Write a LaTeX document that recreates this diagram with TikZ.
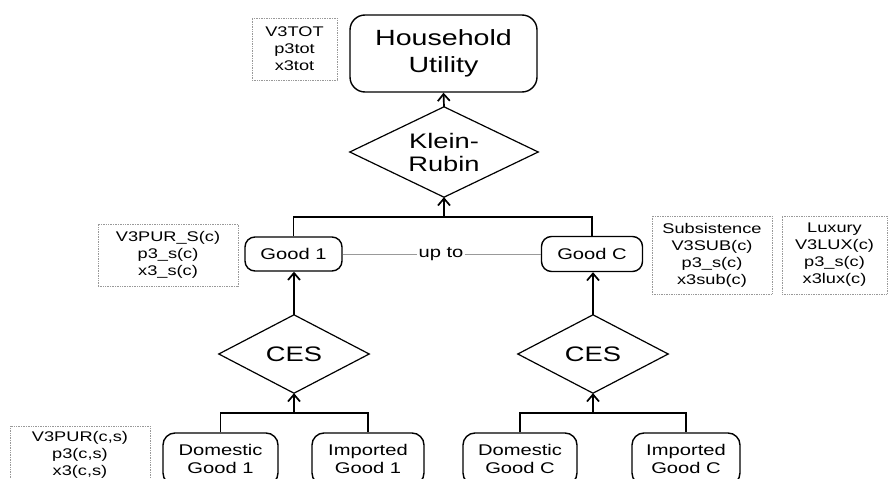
\documentclass[tikz,border=0pt]{standalone}
\usepackage{fontspec}
\setmainfont{Liberation Sans}[FakeStretch=1.3]
\usetikzlibrary{arrows.meta}
\begin{document}
\begin{tikzpicture}[x=1pt,y=-1pt,
  conn/.style={line width=1.7pt},
  arr/.style={line width=1.7pt,-{Straight Barb[length=7pt,width=12pt,line width=1.7pt]}},
  rbox/.style={draw,line width=1.4pt,rounded corners=10pt,align=center,inner sep=0pt},
  dia/.style={inner sep=0pt,align=center},
  diaedge/.style={line width=1.2pt},
  note/.style={draw=gray!80,densely dotted,line width=0.7pt,align=center,inner sep=0pt,font=\fontsize{14}{17}\selectfont},
  upline/.style={draw=gray!80,line width=0.6pt}
]
\clip (0,0) rectangle (889,479);
\fill[white] (0,0) rectangle (889,479);
% main nodes
\node[rbox,rounded corners=15pt,minimum width=187pt,minimum height=77pt,font=\fontsize{22}{27}\selectfont] (hu) at (443.5,53.5) {Household\\Utility};
\node[dia,minimum width=188pt,minimum height=90pt,font=\fontsize{21}{23}\selectfont] (kr) at (444,152) {Klein-\\Rubin};
\draw[diaedge] (kr.north) -- (kr.east) -- (kr.south) -- (kr.west) -- cycle;
\node[rbox,minimum width=97pt,minimum height=34pt,font=\fontsize{15.5}{18}\selectfont] (g1) at (293.5,254) {Good 1};
\node[rbox,minimum width=101pt,minimum height=35pt,font=\fontsize{15.5}{18}\selectfont] (gc) at (592,254) {Good C};
\node[dia,minimum width=150pt,minimum height=78pt,font=\fontsize{21}{25}\selectfont] (ces1) at (294,354) {CES};
\draw[diaedge] (ces1.north) -- (ces1.east) -- (ces1.south) -- (ces1.west) -- cycle;
\node[dia,minimum width=150pt,minimum height=78pt,font=\fontsize{21}{25}\selectfont] (cesc) at (593,354) {CES};
\draw[diaedge] (cesc.north) -- (cesc.east) -- (cesc.south) -- (cesc.west) -- cycle;
\node[rbox,rounded corners=12pt,minimum width=115pt,minimum height=52pt,font=\fontsize{15.5}{18}\selectfont] (d1) at (220.5,459) {Domestic\\Good 1};
\node[rbox,rounded corners=12pt,minimum width=112pt,minimum height=52pt,font=\fontsize{15.5}{18}\selectfont] (i1) at (368,459) {Imported\\Good 1};
\node[rbox,rounded corners=12pt,minimum width=114pt,minimum height=52pt,font=\fontsize{15.5}{18}\selectfont] (dc) at (520,459) {Domestic\\Good C};
\node[rbox,rounded corners=12pt,minimum width=108pt,minimum height=52pt,font=\fontsize{15.5}{18}\selectfont] (ic) at (686,459) {Imported\\Good C};
% notes
\node[note,minimum width=85pt,minimum height=62pt] (n1) at (294.5,49) {V3TOT\\p3tot\\x3tot};
\node[note,minimum width=140pt,minimum height=62pt] (n2) at (168,255) {V3PUR\_S(c)\\p3\_s(c)\\x3\_s(c)};
\node[note,minimum width=120pt,minimum height=78pt] (n3) at (712,255) {Subsistence\\V3SUB(c)\\p3\_s(c)\\x3sub(c)};
\node[note,minimum width=105pt,minimum height=78pt] (n4) at (834.5,255) {Luxury\\V3LUX(c)\\p3\_s(c)\\x3lux(c)};
\node[note,minimum width=140pt,minimum height=58pt] (n5) at (80,455) {V3PUR(c,s)\\p3(c,s)\\x3(c,s)};
% connectors
\coordinate (tb) at (444,217);
\coordinate (b1) at (294,413);
\coordinate (bc) at (593,413);
\draw[arr] (kr.north) -- (hu.south);
\draw[conn] (g1.north) |- (tb) -| (gc.north);
\draw[arr] (tb) -- (kr.south);
\draw[arr] (ces1.north) -- (ces1.north |- g1.south);
\draw[arr] (cesc.north) -- (cesc.north |- gc.south);
\draw[conn] (d1.north) |- (b1) -| (i1.north);
\draw[arr] (b1) -- (ces1.south);
\draw[conn] (dc.north) |- (bc) -| (ic.north);
\draw[arr] (bc) -- (cesc.south);
\node[inner sep=1pt,font=\fontsize{15.5}{18}\selectfont] (upto) at (441,254) {up to};
\draw[upline] (g1.east) -- (upto.west);
\draw[upline] (upto.east) -- (gc.west);
\end{tikzpicture}
\end{document}
